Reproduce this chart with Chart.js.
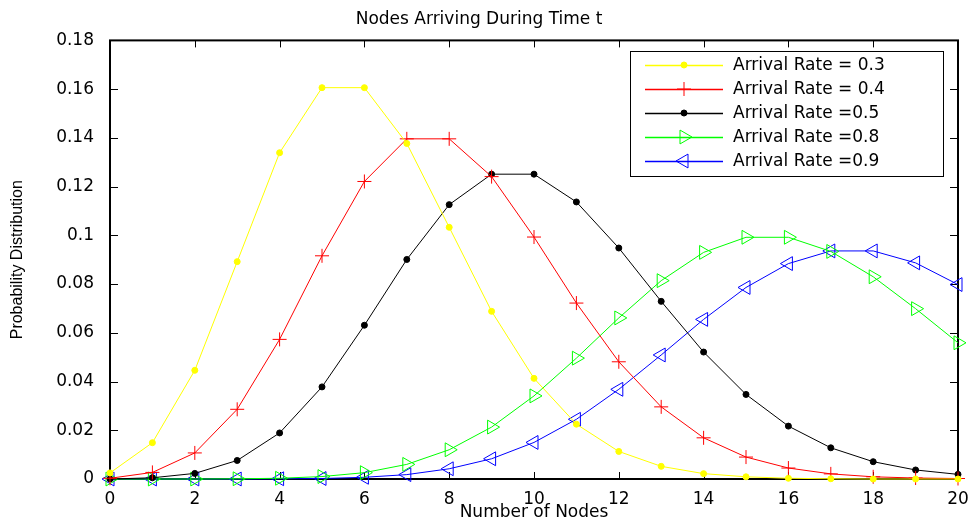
<!DOCTYPE html>
<html>
<head>
<meta charset="utf-8">
<script src="https://cdn.jsdelivr.net/npm/chart.js@4.4.1/dist/chart.umd.min.js"></script>
<style>
  html, body { margin: 0; padding: 0; background: #fff; }
  #wrap { width: 972px; height: 523px; }
</style>
</head>
<body>
<div id="wrap"><canvas id="nodesChart" width="972" height="523"></canvas></div>
<script>
// number of nodes k
const nodes = [0,1,2,3,4,5,6,7,8,9,10,11,12,13,14,15,16,17,18,19,20];
const xTicks = [0,2,4,6,8,10,12,14,16,18,20];
const yTicks = [0,0.02,0.04,0.06,0.08,0.1,0.12,0.14,0.16,0.18];

const rate03 = [0.0025,0.0149,0.0446,0.0892,0.1339,0.1606,0.1606,0.1377,0.1033,0.0688,0.0413,0.0225,0.0113,0.0052,0.0022,0.0009,0.0003,0.0001,0.0000,0.0000,0.0000];
const rate04 = [0.0003,0.0027,0.0107,0.0286,0.0573,0.0916,0.1221,0.1396,0.1396,0.1241,0.0993,0.0722,0.0481,0.0296,0.0169,0.0090,0.0045,0.0021,0.0009,0.0004,0.0002];
const rate05 = [0.0000,0.0005,0.0023,0.0076,0.0189,0.0378,0.0631,0.0901,0.1126,0.1251,0.1251,0.1137,0.0948,0.0729,0.0521,0.0347,0.0217,0.0128,0.0071,0.0037,0.0019];
const rate08 = [0.0000,0.0000,0.0000,0.0001,0.0003,0.0010,0.0026,0.0060,0.0120,0.0213,0.0341,0.0496,0.0661,0.0814,0.0930,0.0992,0.0992,0.0934,0.0830,0.0699,0.0559];
const rate09 = [0.0000,0.0000,0.0000,0.0000,0.0001,0.0002,0.0007,0.0018,0.0042,0.0083,0.0150,0.0245,0.0368,0.0509,0.0655,0.0786,0.0884,0.0936,0.0936,0.0887,0.0798];

const labels = ['Arrival Rate = 0.3','Arrival Rate = 0.4','Arrival Rate =0.5','Arrival Rate =0.8','Arrival Rate =0.9'];

const FONT = "'DejaVu Sans', 'Liberation Sans', Arial, sans-serif";

function series(label, values, color, style, radius, rotation, fill) {
    return {
        label: label,
        data: nodes.map((k, i) => ({ x: k, y: values[i] })),
        borderColor: color,
        backgroundColor: fill ? color : 'rgba(0,0,0,0)',
        pointBorderColor: color,
        pointBackgroundColor: fill ? color : 'rgba(0,0,0,0)',
        borderWidth: 1,
        pointStyle: style,
        pointRadius: radius,
        pointRotation: rotation,
        pointBorderWidth: 1,
        tension: 0,
        clip: false
    };
}

// MATLAB-style box with inward ticks and legend inside the axes
const matlabBox = {
    id: 'matlabBox',
    beforeDatasetsDraw(chart) {
        const { ctx, chartArea: a, scales } = chart;
        ctx.save();
        ctx.strokeStyle = '#000';
        ctx.lineWidth = 1;
        xTicks.forEach(v => {
            const px = Math.round(scales.x.getPixelForValue(v)) + 0.5;
            ctx.beginPath();
            ctx.moveTo(px, a.bottom); ctx.lineTo(px, a.bottom - 7);
            ctx.moveTo(px, a.top); ctx.lineTo(px, a.top + 7);
            ctx.stroke();
        });
        yTicks.forEach(v => {
            const py = Math.round(scales.y.getPixelForValue(v)) + 0.5;
            ctx.beginPath();
            ctx.moveTo(a.left, py); ctx.lineTo(a.left + 8, py);
            ctx.moveTo(a.right, py); ctx.lineTo(a.right - 8, py);
            ctx.stroke();
        });
        ctx.lineWidth = 2;
        ctx.strokeRect(a.left, a.top, a.right - a.left, a.bottom - a.top);
        ctx.restore();
    },
    afterDraw(chart) {
        const { ctx } = chart;
        const bx = 630, by = 51, bw = 313, bh = 125;
        ctx.save();
        ctx.fillStyle = '#fff';
        ctx.fillRect(bx, by, bw, bh);
        ctx.strokeStyle = '#000';
        ctx.lineWidth = 1;
        ctx.strokeRect(bx + 0.5, by + 0.5, bw, bh);
        ctx.font = '17px ' + FONT;
        ctx.textBaseline = 'middle';
        chart.data.datasets.forEach((ds, i) => {
            const y = by + 14 + i * 24;
            ctx.strokeStyle = ds.borderColor;
            ctx.lineWidth = 1.5;
            ctx.beginPath();
            ctx.moveTo(645, y + 0.5); ctx.lineTo(723, y + 0.5);
            ctx.stroke();
            ctx.lineWidth = 1;
            ctx.fillStyle = ds.pointBackgroundColor;
            ctx.strokeStyle = ds.pointBorderColor;
            Chart.helpers.drawPoint(ctx, {
                pointStyle: ds.pointStyle,
                radius: ds.pointRadius,
                rotation: ds.pointRotation,
                borderWidth: 1
            }, 684, y);
            ctx.fillStyle = '#000';
            ctx.fillText(ds.label, 733, y + 1);
        });
        ctx.restore();
    }
};

new Chart(document.getElementById('nodesChart').getContext('2d'), {
    type: 'line',
    data: {
        datasets: [
            series(labels[0], rate03, '#ffff00', 'circle', 3, 0, true),
            series(labels[1], rate04, '#ff0000', 'cross', 7, 0, false),
            series(labels[2], rate05, '#000000', 'circle', 3, 0, true),
            series(labels[3], rate08, '#00ff00', 'triangle', 8, 90, false),
            series(labels[4], rate09, '#0000ff', 'triangle', 8, -90, false)
        ]
    },
    options: {
        responsive: false,
        animation: false,
        layout: { padding: { left: 0, right: 14, top: 0, bottom: 0 } },
        plugins: {
            legend: { display: false },
            tooltip: { enabled: false },
            title: {
                display: true,
                text: 'Nodes Arriving During Time t',
                color: '#000',
                font: { family: FONT, size: 17, weight: 'normal' },
                padding: { top: 9, bottom: 11 }
            }
        },
        scales: {
            x: {
                type: 'linear',
                min: 0,
                max: 20,
                grid: { display: false },
                border: { display: false },
                afterBuildTicks: scale => { scale.ticks = xTicks.map(v => ({ value: v })); },
                afterFit: scale => { scale.height = 44; },
                ticks: {
                    color: '#000',
                    padding: 2,
                    maxRotation: 0,
                    font: { family: FONT, size: 17 }
                },
                title: {
                    display: true,
                    text: 'Number of Nodes',
                    color: '#000',
                    font: { family: FONT, size: 17 },
                    padding: { top: 0, bottom: 0 }
                }
            },
            y: {
                min: 0,
                max: 0.18,
                grid: { display: false },
                border: { display: false },
                afterBuildTicks: scale => { scale.ticks = yTicks.map(v => ({ value: v })); },
                afterFit: scale => { scale.width = 110; },
                ticks: {
                    color: '#000',
                    padding: 8,
                    font: { family: FONT, size: 17 },
                    callback: v => String(Number(v.toFixed(2)))
                },
                title: {
                    display: true,
                    text: 'Probability Distribution',
                    color: '#000',
                    font: { family: "'Liberation Sans Narrow', 'Liberation Sans', Arial, sans-serif", size: 16 },
                    padding: { top: 8, bottom: 0 }
                }
            }
        }
    },
    plugins: [matlabBox]
});
</script>
</body>
</html>
